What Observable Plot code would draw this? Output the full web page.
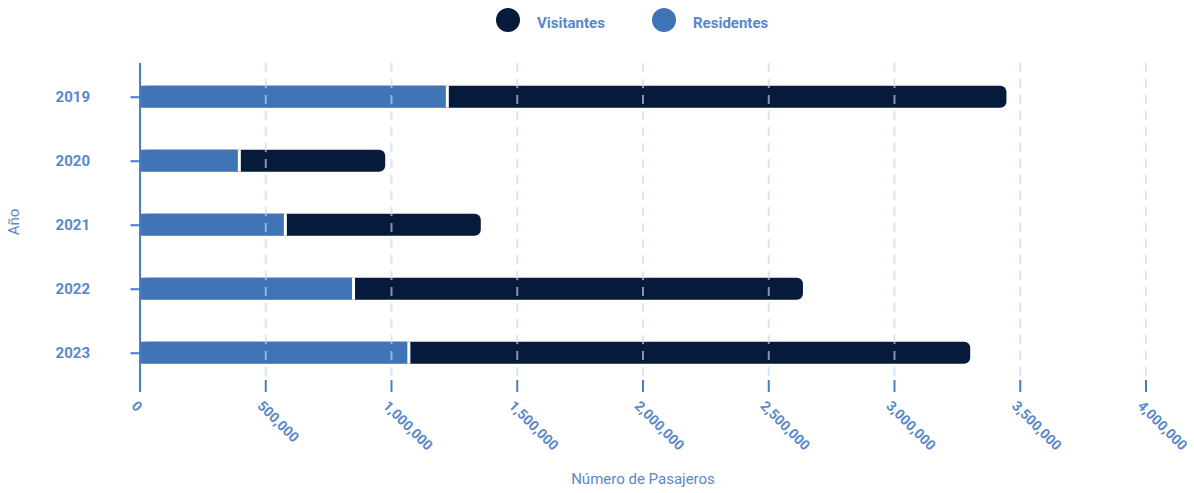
<!DOCTYPE html>
<html><head><meta charset="utf-8">
<script src="https://cdn.jsdelivr.net/npm/d3@7"></script>
<script src="https://cdn.jsdelivr.net/npm/@observablehq/plot@0.6"></script>
<style>
body{margin:0;background:#fff;font-family:Roboto, sans-serif;}
#legend{position:relative;height:45px;width:1194px;}
.sw{position:absolute;top:8px;width:24px;height:24px;border-radius:50%;}
.lt{position:absolute;top:14px;font:bold 15px Roboto, sans-serif;color:#5a87c9;line-height:18px;white-space:nowrap;}
#chart svg{display:block;}
</style></head><body>
<div id="legend"></div>
<div id="chart"></div>
<script>
// ---- data ----
const years = ["2019", "2020", "2021", "2022", "2023"];
const residentes = [1218000, 391000, 574000, 845000, 1065000];
const visitantes = [2229000, 586000, 783000, 1793000, 2238000];
const seriesNames = ["Visitantes", "Residentes"];
const seriesColors = ["#061a3b", "#3f74b6"];
const xTicks = [0, 500000, 1000000, 1500000, 2000000, 2500000, 3000000, 3500000, 4000000];
const xTitle = "Número de Pasajeros";
const yTitle = "Año";

const rows = years.map((y, i) => ({year: y, res: residentes[i], vis: visitantes[i], total: residentes[i] + visitantes[i]}));

const textColor = "#5a87c9";
const axisColor = "#4a7cc3";

// ---- legend ----
const legend = document.getElementById("legend");
const legendPos = [[496, 537], [652, 693]];
seriesNames.forEach((name, i) => {
  const c = document.createElement("div");
  c.className = "sw"; c.style.left = legendPos[i][0] + "px"; c.style.background = seriesColors[i];
  const t = document.createElement("div");
  t.className = "lt"; t.style.left = legendPos[i][1] + "px"; t.textContent = name;
  legend.appendChild(c); legend.appendChild(t);
});

// ---- chart ----
const chart = Plot.plot({
  width: 1194,
  height: 448,
  marginTop: 18,
  marginBottom: 113,
  marginLeft: 139.5,
  marginRight: 48.5,
  style: {fontFamily: "Roboto, sans-serif", background: "white"},
  x: {domain: [0, 4000000], label: null},
  y: {domain: years, range: [19.7, 339.7], paddingInner: 0.656, paddingOuter: 0.328, round: false, label: null},
  marks: [
    Plot.barX(rows, {y: "year", x1: 0, x2: "total", fill: seriesColors[0], rx: 6}),
    Plot.barX(rows, {y: "year", x1: 0, x2: "res", fill: "white", insetRight: -3}),
    Plot.barX(rows, {y: "year", x1: 0, x2: "res", fill: seriesColors[1]}),
    Plot.ruleX(xTicks.filter(d => d > 0), {stroke: "#ccd4f0", strokeOpacity: 0.65, strokeWidth: 2, strokeDasharray: "9,7"}),
    Plot.ruleX([0], {stroke: axisColor, strokeWidth: 2, insetBottom: -12}),
    // tick marks
    Plot.axisX({ticks: xTicks, tickSize: 12, tickFormat: () => "", label: null, stroke: axisColor, strokeWidth: 2}),
    // tick labels
    Plot.axisX({ticks: xTicks, tickSize: 0, tickPadding: 23, tickRotate: 45, tickFormat: d3.format(","), label: null,
      fill: textColor, fontSize: 14, fontWeight: "bold", dx: -6}),
    Plot.axisY({tickSize: 9, tickPadding: 41, label: null, stroke: axisColor, fill: textColor, strokeWidth: 2,
      fontSize: 15, fontWeight: "bold"}),
    Plot.text([xTitle], {text: d => d, frameAnchor: "bottom", dy: 103, fill: textColor, fontSize: 15}),
    Plot.text([yTitle], {text: d => d, frameAnchor: "left", dx: -126, rotate: -90, textAnchor: "middle", fill: textColor, fontSize: 15})
  ]
});
document.getElementById("chart").appendChild(chart);
</script>
</body></html>
